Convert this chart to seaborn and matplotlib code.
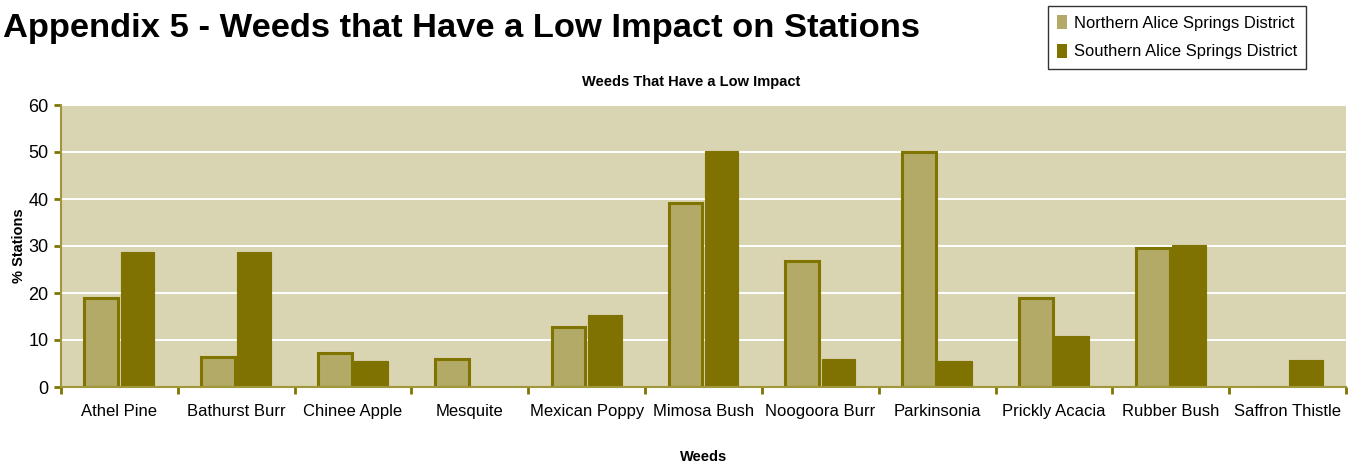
import matplotlib
matplotlib.use("Agg")
import matplotlib.pyplot as plt
import seaborn as sns
import pandas as pd
from matplotlib.patches import Patch

weeds = ["Athel Pine", "Bathurst Burr", "Chinee Apple", "Mesquite", "Mexican Poppy",
         "Mimosa Bush", "Noogoora Burr", "Parkinsonia", "Prickly Acacia",
         "Rubber Bush", "Saffron Thistle"]
northern = [19.0, 6.4, 7.2, 6.0, 12.7, 39.1, 26.9, 50.0, 19.0, 29.5, 0.0]
southern = [28.7, 28.7, 5.5, 0.0, 15.3, 50.2, 5.9, 5.6, 10.8, 30.2, 5.7]
series = ["Northern Alice Springs District", "Southern Alice Springs District"]
yticks = [0, 10, 20, 30, 40, 50, 60]

df = pd.DataFrame({
    "Weed": weeds * 2,
    "District": [series[0]] * len(weeds) + [series[1]] * len(weeds),
    "Pct": northern + southern,
})

sns.set_theme(style="white")
plt.rcParams["font.family"] = ["Liberation Sans", "DejaVu Sans"]
plt.rcParams["text.color"] = "black"
plt.rcParams["axes.labelcolor"] = "black"

c_north = "#B2AA66"
c_south = "#7F7200"
c_edge = "#807400"
c_bg = "#D9D4B1"
c_axis = "#A0963C"

fig = plt.figure(figsize=(13.54, 4.66), dpi=100)
ax = fig.add_axes([61 / 1354, 79 / 466, 1285 / 1354, 282 / 466])
ax.set_facecolor(c_bg)

sns.barplot(data=df, x="Weed", y="Pct", hue="District", order=weeds,
            hue_order=series, palette=[c_north, c_south], width=0.62,
            gap=0.07, ax=ax, legend=False, saturation=1)

for bar in ax.patches[:len(weeds)]:
    bar.set_edgecolor(c_edge)
    bar.set_linewidth(2.2)
for bar in ax.patches[len(weeds):]:
    bar.set_edgecolor(c_south)
    bar.set_linewidth(0.8)

ax.set_ylim(0, 60)
ax.set_yticks(yticks)
ax.set_xlim(-0.5, len(weeds) - 0.5)
ax.yaxis.grid(True, color="white", linewidth=1.4)
ax.set_axisbelow(True)
for s in ["top", "right"]:
    ax.spines[s].set_visible(False)
for s in ["left", "bottom"]:
    ax.spines[s].set_color(c_axis)
    ax.spines[s].set_linewidth(1.5)

# category boundary ticks on the x-axis
ax.set_xticks([i - 0.5 for i in range(len(weeds) + 1)], minor=True)
ax.tick_params(axis="x", which="minor", length=5, width=2, color=c_edge, bottom=True)
ax.tick_params(axis="x", which="major", length=0, labelsize=12, pad=12, colors="black")
ax.tick_params(axis="y", which="major", length=5, width=2, color=c_edge, left=True,
               labelsize=13, colors="black", pad=4)

ax.set_xlabel("Weeds", fontsize=10.5, fontweight="bold", labelpad=22.5)
ax.set_ylabel("% Stations", fontsize=10.5, fontweight="bold", labelpad=1.5)
ax.set_title("Weeds That Have a Low Impact", fontsize=10.5, fontweight="bold",
             pad=14, x=0.49)

fig.text(3 / 1354, 1 - 28 / 466, "Appendix 5 - Weeds that Have a Low Impact on Stations",
         fontsize=24.8, fontweight="bold", va="center", ha="left")

handles = [Patch(facecolor=c_north, edgecolor="none"), Patch(facecolor=c_south, edgecolor="none")]
leg = fig.legend(handles, series, loc="upper left", bbox_to_anchor=(1048 / 1354, 1 - 6 / 466),
                 fontsize=11.9, frameon=True, fancybox=False, edgecolor="black",
                 handlelength=0.6, handleheight=0.9, handletextpad=0.4,
                 labelspacing=0.8, borderpad=0.55, borderaxespad=0)
leg.get_frame().set_linewidth(1.0)

fig.savefig("out.png", dpi=100, facecolor="white")
